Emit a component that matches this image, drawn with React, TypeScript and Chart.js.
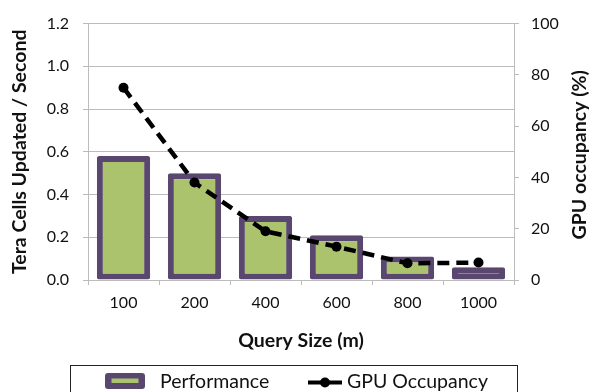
import React, { useEffect, useRef } from 'react';
import { Chart, registerables } from 'chart.js';

Chart.register(...registerables);

const categories = ['100', '200', '400', '600', '800', '1000'];
const performance = [0.58, 0.5, 0.3, 0.21, 0.11, 0.06];
const gpuOccupancy = [75, 38, 19, 13, 6.5, 6.8];
const legendLabels = ['Performance', 'GPU Occupancy'];
const axisTitles = ['Query Size (m)', 'Tera Cells Updated / Second', 'GPU occupancy (%)'];

const GREEN = '#aac36c';
const PURPLE = '#5a4770';
const GRID = '#bcbcbc';
const FONT = 'Lato';
const TITLE_SIZE = 19.5;

const overlayPlugin = {
  id: 'overlay',
  afterDraw(chart: any) {
    const ctx = chart.ctx as CanvasRenderingContext2D;
    ctx.save();
    // right axis title, reading bottom to top
    const y1 = chart.scales.y1;
    ctx.fillStyle = '#111';
    ctx.font = `bold ${TITLE_SIZE}px ${FONT}`;
    ctx.textAlign = 'center';
    ctx.textBaseline = 'middle';
    ctx.translate(y1.right - 9.5, (y1.top + y1.bottom) / 2 + 3);
    ctx.rotate(-Math.PI / 2);
    ctx.fillText(axisTitles[2], 0, 0);
    ctx.restore();

    ctx.save();
    ctx.strokeStyle = '#222';
    ctx.lineWidth = 1;
    ctx.strokeRect(70.5, 365.5, 447, 40);
    // bar swatch
    ctx.fillStyle = PURPLE;
    ctx.beginPath();
    (ctx as any).roundRect(105, 373, 40, 16, 3);
    ctx.fill();
    ctx.fillStyle = GREEN;
    ctx.fillRect(111.5, 378.5, 27, 4.5);
    // line swatch
    ctx.strokeStyle = '#000';
    ctx.lineWidth = 4;
    ctx.beginPath();
    ctx.moveTo(308, 382.5);
    ctx.lineTo(342, 382.5);
    ctx.stroke();
    ctx.fillStyle = '#000';
    ctx.beginPath();
    ctx.arc(325, 382.5, 5, 0, Math.PI * 2);
    ctx.fill();
    // text
    ctx.fillStyle = '#111';
    ctx.font = `19.5px ${FONT}`;
    ctx.textBaseline = 'alphabetic';
    ctx.textAlign = 'left';
    ctx.fillText(legendLabels[0], 160, 388);
    ctx.fillText(legendLabels[1], 347, 388);
    ctx.restore();
  },
};

export default function App() {
  const ref = useRef<HTMLCanvasElement | null>(null);
  useEffect(() => {
    if (!ref.current) return;
    const chart = new Chart(ref.current, {
      type: 'bar',
      data: {
        labels: categories,
        datasets: [
          {
            type: 'line',
            label: legendLabels[1],
            data: gpuOccupancy,
            yAxisID: 'y1',
            borderColor: '#000',
            backgroundColor: '#000',
            borderWidth: 4.5,
            borderDash: [12, 7],
            pointRadius: 5,
            pointHoverRadius: 5,
            pointBackgroundColor: '#000',
            pointBorderWidth: 0,
            tension: 0,
            order: 0,
          } as any,
          {
            type: 'bar',
            label: legendLabels[0],
            data: performance,
            yAxisID: 'y',
            backgroundColor: GREEN,
            borderColor: PURPLE,
            borderWidth: 6,
            borderSkipped: false,
            borderRadius: 2,
            categoryPercentage: 1,
            barPercentage: 0.75,
            order: 1,
          } as any,
        ],
      },
      options: {
        animation: false,
        responsive: false,
        layout: { padding: { top: 15, left: 0, right: 0, bottom: 0 } },
        plugins: {
          legend: { display: false },
          tooltip: { enabled: false },
        },
        scales: {
          x: {
            offset: true,
            grid: {
              offset: true,
              drawOnChartArea: false,
              drawTicks: true,
              tickLength: 5,
              color: GRID,
            },
            border: { display: true, color: GRID },
            ticks: {
              color: '#111',
              font: { family: FONT, size: 16 },
              padding: 8,
            },
            title: {
              display: true,
              text: axisTitles[0],
              color: '#111',
              font: { family: FONT, size: TITLE_SIZE, weight: 'bold', lineHeight: 1 },
              padding: { top: 0, bottom: 42 },
            },
            afterFit: (s: any) => {
              s.height = 112;
            },
          },
          y: {
            position: 'left',
            min: 0,
            max: 1.2,
            ticks: {
              stepSize: 0.2,
              color: '#111',
              font: { family: FONT, size: 16 },
              padding: 14,
              callback: (v: any) => Number(v).toFixed(1),
            },
            grid: {
              color: GRID,
              drawTicks: true,
              tickLength: 5,
            },
            border: { display: true, color: GRID },
            title: {
              display: true,
              text: axisTitles[1],
              color: '#111',
              font: { family: FONT, size: TITLE_SIZE, weight: 'bold', lineHeight: 1 },
              padding: { top: 10, bottom: 0 },
            },
            afterFit: (s: any) => {
              s.width = 88;
            },
          },
          y1: {
            position: 'right',
            min: 0,
            max: 100,
            ticks: {
              stepSize: 20,
              color: '#111',
              font: { family: FONT, size: 16 },
              padding: 12,
            },
            grid: {
              color: GRID,
              drawOnChartArea: false,
              drawTicks: true,
              tickLength: 5,
            },
            border: { display: true, color: GRID },
            title: { display: false },
            afterFit: (s: any) => {
              s.width = 75;
            },
          },
        },
      },
      plugins: [overlayPlugin],
    });
    return () => chart.destroy();
  }, []);
  return (
    <div style={{ position: 'fixed', left: 0, top: 0, width: 589, height: 392, background: '#fff' }}>
      <canvas ref={ref} width={589} height={392} />
    </div>
  );
}
